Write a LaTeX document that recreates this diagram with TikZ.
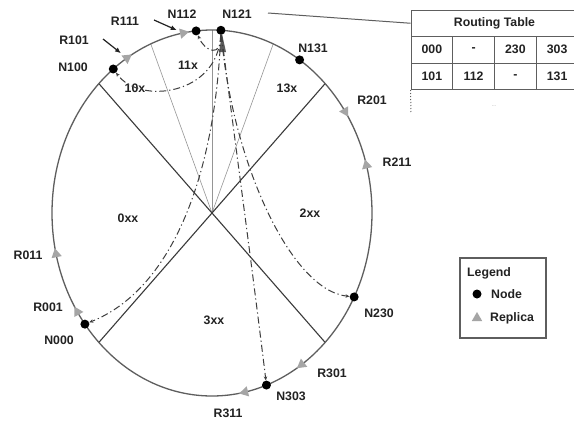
\documentclass[tikz,border=0pt]{standalone}
\usepackage{fontspec}
\setmainfont{Liberation Sans}
\usetikzlibrary{arrows.meta,shapes.geometric}
\definecolor{Ink}{HTML}{222222}
\definecolor{RingGrey}{HTML}{5E5E5E}
\definecolor{SplitGrey}{HTML}{3A3A3A}
\definecolor{FineGrey}{HTML}{959595}
\definecolor{RepGrey}{HTML}{A5A5A5}
\definecolor{RouteGrey}{HTML}{3E3E3E}

\begin{document}
\begin{tikzpicture}[x=1pt,y=-1pt,
  lbl/.style={font=\fontsize{12.3}{14}\selectfont\bfseries,text=Ink,inner sep=1pt},
  zone/.style={lbl},
  peer/.style={circle,fill=black,minimum size=9pt,inner sep=0pt},
  replica/.style={regular polygon,regular polygon sides=3,fill=RepGrey,minimum size=12pt,inner sep=0pt},
  ring/.style={draw=RingGrey,line width=1.3pt},
  split/.style={draw=SplitGrey,line width=1.1pt},
  fine/.style={draw=FineGrey,line width=0.6pt},
  route/.style={draw=RouteGrey,line width=1pt,dash pattern=on 7pt off 3pt on 1.2pt off 3pt,
    -{Stealth[length=4pt,width=3.5pt]}},
  ptr/.style={draw=Ink,line width=1.2pt,-{Latex[length=6pt,width=5pt]},shorten >=3pt},
  cell/.style={lbl,draw=RingGrey,line width=1pt,minimum width=41.75pt,minimum height=26.5pt,inner sep=0pt}
]
  \useasboundingbox (0,0) rectangle (574,421);
  \fill[white] (0,0) rectangle (574,421);

  % quadrant splits and the 1xx sub-splits
  \coordinate (O) at (212,213);
  \foreach \a/\n in {45/ne,135/nw,225/sw,315/se}
    \coordinate (rim\n) at ({212+160*cos(\a)},{213-183*sin(\a)});
  \foreach \a/\n in {67.5/a,90/b,112.5/c}
    \coordinate (sub\n) at ({212+160*cos(\a)},{213-183*sin(\a)});
  \foreach \n in {a,b,c}
    \draw[fine] (O) -- (sub\n);
  \foreach \n in {ne,nw,sw,se}
    \draw[split] (O) -- (rim\n);

  % ring
  \draw[ring] (O) ellipse [x radius=160pt,y radius=183pt];

  % zone names
  \node[zone] (z0) at (128,218) {0xx};
  \node[zone] (z2) at (310,213) {2xx};
  \node[zone] (z3) at (214,320) {3xx};
  \node[zone] (z10) at (135,88) {10x};
  \node[zone] (z11) at (188,65) {11x};
  \node[zone] (z13) at (287,88) {13x};

  % nodes on the ring
  \foreach \n/\t in {N121/86.8,N112/95.7,N131/56.8,N100/128.1,N230/-27.3,N303/-70.1,N000/217.4}
    \node[peer] (\n) at ({212+160*cos(\t)},{213-183*sin(\t)}) {};

  % replicas: 0 = clockwise, 180 = counter-clockwise
  \foreach \n/\t/\s in {R111/100.4/0,R101/122.1/0,R201/33.7/0,R211/15.1/180,
                        R011/193/0,R001/212.7/0,R301/-55.9/0,R311/-78.1/0}
    \node[replica,rotate={atan2(-183*cos(\t),160*sin(\t))-90+\s}] (\n)
      at ({212+160*cos(\t)},{213-183*sin(\t)}) {};

  % lookups starting at N121
  \fill[RouteGrey!85] (219,52) -- (222,34) -- (226,52) -- cycle;
  \draw[route] (N121) .. controls (222,58) and (205,52) .. (N112);
  \draw[route] (N121) .. controls (218,95) and (140,105) .. (N100);
  \draw[route] (N121) .. controls (215,180) and (170,290) .. (N000);
  \draw[route] (N121) .. controls (232,120) and (250,250) .. (N303);
  \draw[route] (N121) .. controls (232,160) and (290,290) .. (N230);

  % labels
  \node[lbl] (lN112) at (182,14) {N112};
  \node[lbl] (lN121) at (237,14) {N121};
  \node[lbl] (lN131) at (313,48) {N131};
  \node[lbl] (lN100) at (73,67) {N100};
  \node[lbl] (lN230) at (379,313) {N230};
  \node[lbl] (lN303) at (291,396) {N303};
  \node[lbl] (lN000) at (59,340) {N000};
  \node[lbl] (lR111) at (125,21) {R111};
  \node[lbl] (lR101) at (74,40) {R101};
  \node[lbl] (lR201) at (372,100) {R201};
  \node[lbl] (lR211) at (397,162) {R211};
  \node[lbl] (lR011) at (28,255) {R011};
  \node[lbl] (lR001) at (48,307) {R001};
  \node[lbl] (lR301) at (332,373) {R301};
  \node[lbl] (lR311) at (228,413) {R311};
  \coordinate (pR111) at (154,20);
  \coordinate (pR101) at (103,39);
  \draw[ptr] (pR111) -- (R111);
  \draw[ptr] (pR101) -- (R101);

  % routing table of N121
  \node[cell,minimum width=167pt] (rt) at (494.5,23.25) {Routing Table};
  \foreach \v [count=\c] in {000,-,230,303}
    \node[cell] (ra\c) at ({390.125+41.75*\c},49.75) {\v};
  \foreach \v [count=\c] in {101,112,-,131}
    \node[cell] (rb\c) at ({390.125+41.75*\c},76.25) {\v};
  \coordinate (rtend) at (411,113);
  \draw[RingGrey,line width=1pt,dotted] (rb1.south west) -- (rtend);
  \node[font=\tiny,text=FineGrey] (rtmore) at (494,106) {...};
  \coordinate (tap) at (268,13);
  \draw[RingGrey,line width=1pt] (tap) -- (rt.west);

  % legend
  \node[draw=RingGrey,line width=1.2pt,minimum width=86pt,minimum height=80pt] (lg) at (503,298) {};
  \node[lbl,anchor=west] (lgt) at (466,273) {Legend};
  \node[peer] (lgn) at (477,294) {};
  \node[lbl,anchor=west] (lgnt) at (490,294) {Node};
  \node[replica] (lgr) at (477,318) {};
  \node[lbl,anchor=west] (lgrt) at (489,318) {Replica};
\end{tikzpicture}
\end{document}
